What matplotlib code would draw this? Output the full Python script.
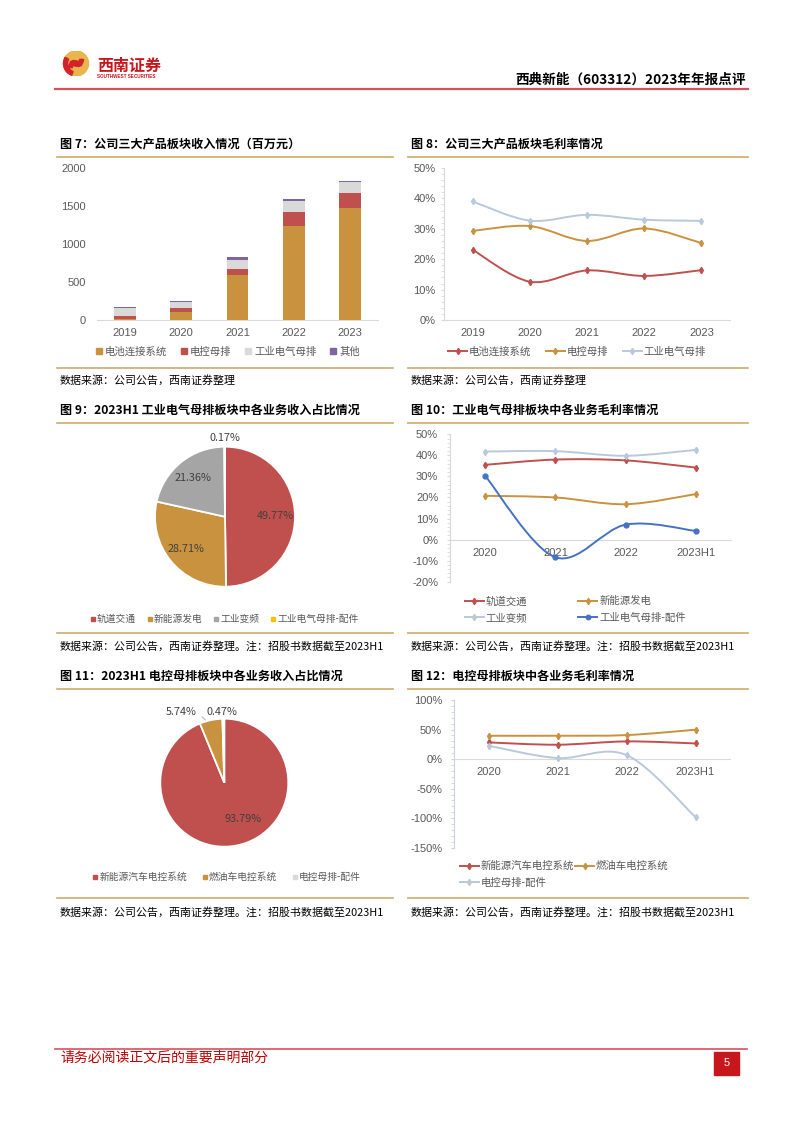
import numpy as np
import matplotlib
matplotlib.use('Agg')
import matplotlib.pyplot as plt
from matplotlib.path import Path
from matplotlib.patches import PathPatch, Rectangle, Circle, Wedge
from matplotlib.lines import Line2D
from matplotlib.ticker import FuncFormatter, MultipleLocator

plt.rcParams['font.family'] = ['Noto Sans CJK SC', 'DejaVu Sans']

# ---------------- data ----------------
years7 = ['2019', '2020', '2021', '2022', '2023']
rev_battery = [10, 110, 593, 1231, 1468]
rev_control = [45, 44, 79, 189, 202]
rev_industrial = [105, 88, 119, 140, 141]
rev_other = [12, 13, 40, 27, 22]
series7 = ['电池连接系统', '电控母排', '工业电气母排', '其他']

years8 = ['2019', '2020', '2021', '2022', '2023']
gm_battery = [23.1, 12.6, 16.3, 14.5, 16.4]
gm_control = [29.3, 30.9, 26.0, 30.1, 25.3]
gm_industrial = [39.0, 32.7, 34.6, 33.0, 32.6]
series8 = ['电池连接系统', '电控母排', '工业电气母排']

pie9_labels = ['轨道交通', '新能源发电', '工业变频', '工业电气母排-配件']
pie9_values = [49.77, 28.71, 21.36, 0.17]

cats10 = ['2020', '2021', '2022', '2023H1']
gm_rail = [35.5, 38.0, 37.6, 34.2]
gm_newenergy = [20.8, 20.0, 16.8, 21.6]
gm_inverter = [41.8, 42.0, 39.8, 42.6]
gm_parts10 = [30.3, -8.4, 7.1, 4.1]
series10 = ['轨道交通', '新能源发电', '工业变频', '工业电气母排-配件']

pie11_labels = ['新能源汽车电控系统', '燃油车电控系统', '电控母排-配件']
pie11_values = [93.79, 5.74, 0.47]

cats12 = ['2020', '2021', '2022', '2023H1']
gm_nev = [28.2, 24.3, 29.9, 26.5]
gm_fuel = [39.5, 39.5, 40.6, 49.7]
gm_parts12 = [22.6, 1.7, 6.8, -98.2]
series12 = ['新能源汽车电控系统', '燃油车电控系统', '电控母排-配件']

# ---------------- style ----------------
W, H = 802, 1133
C_GOLD = '#C9923E'
C_RED = '#C0504D'
C_GRAY = '#D9D9D9'
C_PURPLE = '#7F64A2'
C_LIGHT = '#BAC8DC'
C_BLUE = '#4472C4'
C_YELLOW = '#FFC000'
C_PIEGRAY = '#A5A5A5'
C_RULE = '#D2A96A'
C_TXT = '#595959'
CJK = ['Noto Sans CJK SC', 'DejaVu Sans']
LAT = 'Liberation Sans'

fig = plt.figure(figsize=(W / 100, H / 100), dpi=100)


def ax_px(x0, y0, x1, y1):
    return fig.add_axes([x0 / W, 1 - y1 / H, (x1 - x0) / W, (y1 - y0) / H])


def ftext(x, y, s, **kw):
    return fig.text(x / W, 1 - y / H, s, **kw)


def hline(x0, x1, y, color, lw):
    fig.add_artist(Line2D([x0 / W, x1 / W], [1 - y / H, 1 - y / H],
                          color=color, lw=lw, transform=fig.transFigure))


def smooth_path(xs, ys):
    pts = np.column_stack([xs, ys]).astype(float)
    n = len(pts)
    verts = [pts[0]]
    codes = [Path.MOVETO]
    for i in range(n - 1):
        p0 = pts[i - 1] if i > 0 else pts[i]
        p1 = pts[i]
        p2 = pts[i + 1]
        p3 = pts[i + 2] if i + 2 < n else pts[i + 1]
        c1 = p1 + (p2 - p0) / 6.0
        c2 = p2 - (p3 - p1) / 6.0
        verts += [c1, c2, p2]
        codes += [Path.CURVE4] * 3
    return Path(verts, codes)


def smooth_line(ax, ys, color, marker='d', ms=3.2, lw=1.4):
    xs = np.arange(len(ys))
    ax.add_patch(PathPatch(smooth_path(xs, ys), fill=False, edgecolor=color,
                           lw=lw, capstyle='round', joinstyle='round', zorder=3))
    ax.plot(xs, ys, linestyle='none', marker=marker, ms=ms, color=color, zorder=4)


def pct_fmt(v, pos):
    return f'{v:.0f}%'


def style_line_axes(ax, spine_color=C_GRAY):
    for s in ['top', 'right']:
        ax.spines[s].set_visible(False)
    ax.spines['left'].set_color(spine_color)
    ax.spines['bottom'].set_color(C_GRAY)
    ax.tick_params(axis='both', length=0, labelsize=8, labelcolor=C_TXT,
                   labelfontfamily=LAT)
    ax.tick_params(axis='y', which='minor', length=2.5, color=spine_color, direction='out')
    ax.tick_params(axis='y', which='major', length=2.5, color=spine_color, direction='out')
    ax.yaxis.set_major_formatter(FuncFormatter(pct_fmt))


# ---------------- page header/footer ----------------
ax_logo = ax_px(62, 51, 90, 76)
ax_logo.set_xlim(-1.12, 1.12)
ax_logo.set_ylim(-1.0, 1.0)
ax_logo.set_aspect('equal')
ax_logo.axis('off')
ax_logo.add_patch(Circle((0, 0), 1.0, color='#E9B54C'))
ax_logo.add_patch(Wedge((0, 0), 1.0, 150, 250, width=0.32, color='#D2232A'))
ax_logo.add_patch(Wedge((0.05, 0.33), 0.55, 200, 360, width=0.3, color='#D2232A'))
ax_logo.add_patch(Wedge((-0.05, -0.33), 0.55, 20, 180, width=0.3, color='#D2232A'))

ftext(97, 66, '西南证券', fontsize=11.5, fontweight='bold', color='#C8161D',
      va='center', ha='left', family=CJK)
ftext(97, 76.5, 'SOUTHWEST SECURITIES', fontsize=3.3, fontweight='bold', color='#C8161D',
      va='center', ha='left', family=LAT)
ftext(746, 80, '西典新能（603312）2023年年报点评', fontsize=9.8, fontweight='bold',
      color='black', va='center', ha='right', family=CJK)
hline(55, 748, 88.5, '#D8505A', 1.6)

hline(55, 747, 1048.5, '#D8505A', 1.2)
ftext(60, 1058, '请务必阅读正文后的重要声明部分', fontsize=10, color='#C00000',
      va='center', ha='left', family=CJK)
fig.add_artist(Rectangle((714 / W, 1 - 1075 / H), 25 / W, 23.5 / H,
                         transform=fig.transFigure, color='#C8161D'))
ftext(726.5, 1063, '5', fontsize=8, color='white', va='center', ha='center', family=LAT)

# ---------------- titles, rules, sources ----------------
titles = [
    (60, 144, '图 7：公司三大产品板块收入情况（百万元）'),
    (411, 144, '图 8：公司三大产品板块毛利率情况'),
    (60, 410, '图 9：2023H1 工业电气母排板块中各业务收入占比情况'),
    (411, 410, '图 10：工业电气母排板块中各业务毛利率情况'),
    (60, 676, '图 11：2023H1 电控母排板块中各业务收入占比情况'),
    (411, 676, '图 12：电控母排板块中各业务毛利率情况'),
]
for x, y, s in titles:
    ftext(x, y, s, fontsize=8.7, fontweight='bold', color='black', va='center',
          ha='left', family=CJK)

for y in [157, 368, 423, 633, 689, 898]:
    hline(57, 393, y, C_RULE, 1.2)
    hline(408, 748, y, C_RULE, 1.2)

src1 = '数据来源：公司公告，西南证券整理'
src2 = '数据来源：公司公告，西南证券整理。注：招股书数据截至2023H1'
for x, y, s in [(60, 380, src1), (411, 380, src1), (60, 646, src2), (411, 646, src2),
                (60, 912, src2), (411, 912, src2)]:
    ftext(x, y, s, fontsize=7.9, color='black', va='center', ha='left',
          family=CJK, style='italic')

# ---------------- Chart 7: stacked bars ----------------
ax7 = ax_px(97, 168, 378, 320)
x7 = np.arange(len(years7))
bottom = np.zeros(len(years7))
cols7 = [C_GOLD, C_RED, C_GRAY, C_PURPLE]
for vals, c in zip([rev_battery, rev_control, rev_industrial, rev_other], cols7):
    ax7.bar(x7, vals, 0.39, bottom=bottom, color=c, zorder=3)
    bottom = bottom + np.array(vals)
ax7.set_xlim(-0.5, len(years7) - 0.5)
ax7.set_ylim(0, 2000)
ax7.set_yticks(np.arange(0, 2001, 500))
ax7.set_xticks(x7)
ax7.set_xticklabels(years7)
for s in ['top', 'right', 'left']:
    ax7.spines[s].set_visible(False)
ax7.spines['bottom'].set_color(C_GRAY)
ax7.tick_params(axis='both', length=0, labelsize=8, labelcolor=C_TXT,
                labelfontfamily=LAT)
ax7.tick_params(axis='x', pad=6)
ax7.tick_params(axis='y', pad=8)
h7 = [Line2D([], [], linestyle='none', marker='s', ms=4.5, color=c) for c in cols7]
ax7.legend(h7, series7, loc='center', bbox_to_anchor=(227 / W, 1 - 352 / H),
           bbox_transform=fig.transFigure, ncol=4, frameon=False,
           handletextpad=0.1, columnspacing=1.1, handlelength=1.0,
           labelcolor=C_TXT, prop={'family': CJK, 'size': 7.5})

# ---------------- Chart 8: lines ----------------
ax8 = ax_px(444, 168, 730, 320)
for vals, c in zip([gm_battery, gm_control, gm_industrial], [C_RED, C_GOLD, C_LIGHT]):
    smooth_line(ax8, vals, c)
ax8.set_xlim(-0.5, len(years8) - 0.5)
ax8.set_ylim(0, 50)
ax8.set_yticks(np.arange(0, 51, 10))
ax8.yaxis.set_minor_locator(MultipleLocator(2))
ax8.set_xticks(np.arange(len(years8)))
ax8.set_xticklabels(years8)
style_line_axes(ax8)
ax8.tick_params(axis='x', pad=6)
h8 = [Line2D([], [], color=c, lw=1.4, marker='d', ms=3.2) for c in [C_RED, C_GOLD, C_LIGHT]]
ax8.legend(h8, series8, loc='center', bbox_to_anchor=(577 / W, 1 - 352 / H),
           bbox_transform=fig.transFigure, ncol=3, frameon=False,
           handletextpad=0.2, columnspacing=1.4, handlelength=1.8,
           labelcolor=C_TXT, prop={'family': CJK, 'size': 7.5})


# ---------------- pies ----------------
def draw_pie(ax, values, colors, inner_dist, outer_dist):
    wedges, _, autotexts = ax.pie(values, colors=colors, startangle=90, counterclock=False,
                                  autopct=lambda p: f'{p:.2f}%', pctdistance=inner_dist,
                                  wedgeprops=dict(edgecolor='white', linewidth=1.3),
                                  textprops=dict(fontsize=7.8, color='#404040', family=CJK))
    ax.set_xlim(-1, 1)
    ax.set_ylim(-1, 1)
    ax.set_aspect('equal')
    ax.axis('off')
    for w, t, v in zip(wedges, autotexts, values):
        t.set_clip_on(False)
        if v < 8:
            ang = np.deg2rad((w.theta1 + w.theta2) / 2)
            t.set_position((outer_dist * np.cos(ang), outer_dist * np.sin(ang)))
    return wedges, autotexts


ax9 = ax_px(155, 446.7, 295, 586.7)
w9, t9 = draw_pie(ax9, pie9_values, [C_RED, C_GOLD, C_PIEGRAY, C_YELLOW], 0.72, 1.13)
h9 = [Line2D([], [], linestyle='none', marker='s', ms=3.2, color=c)
      for c in [C_RED, C_GOLD, C_PIEGRAY, C_YELLOW]]
ax9.legend(h9, pie9_labels, loc='center', bbox_to_anchor=(224 / W, 1 - 619 / H),
           bbox_transform=fig.transFigure, ncol=4, frameon=False,
           handletextpad=0.05, columnspacing=1.0, handlelength=0.8,
           labelcolor=C_TXT, prop={'family': CJK, 'size': 7})

ax11 = ax_px(160.3, 718.7, 288.3, 846.7)
w11, t11 = draw_pie(ax11, pie11_values, [C_RED, C_GOLD, C_GRAY], 0.62, 1.12)
# label placement to match layout
t11[0].set_position((0.29, -0.57))
t11[1].set_position((-0.67, 1.11))
t11[2].set_position((-0.04, 1.11))
mid1 = np.deg2rad((w11[1].theta1 + w11[1].theta2) / 2)
ax11.annotate('', xy=(np.cos(mid1) * 0.97 - 0.06, np.sin(mid1) * 0.97),
              xytext=(-0.38, 1.06),
              arrowprops=dict(arrowstyle='-', color='#A6A6A6', lw=0.6),
              annotation_clip=False)
h11 = [Line2D([], [], linestyle='none', marker='s', ms=3.2, color=c)
       for c in [C_RED, C_GOLD, C_GRAY]]
ax11.legend(h11, pie11_labels, loc='center', bbox_to_anchor=(226 / W, 1 - 877 / H),
            bbox_transform=fig.transFigure, ncol=3, frameon=False,
            handletextpad=0.05, columnspacing=1.4, handlelength=0.8,
            labelcolor=C_TXT, prop={'family': CJK, 'size': 7})

# ---------------- Chart 10 ----------------
ax10 = ax_px(450, 434.3, 731, 581.7)
smooth_line(ax10, gm_rail, C_RED)
smooth_line(ax10, gm_newenergy, C_GOLD)
smooth_line(ax10, gm_inverter, C_LIGHT)
smooth_line(ax10, gm_parts10, C_BLUE, marker='o', ms=3.5)
ax10.set_xlim(-0.5, len(cats10) - 0.5)
ax10.set_ylim(-20, 50)
ax10.set_yticks(np.arange(-20, 51, 10))
ax10.yaxis.set_minor_locator(MultipleLocator(2))
ax10.set_xticks(np.arange(len(cats10)))
ax10.set_xticklabels(cats10)
style_line_axes(ax10)
ax10.spines['bottom'].set_position(('data', 0))
ax10.tick_params(axis='x', pad=6)
ax10.tick_params(axis='y', pad=6)
h10 = [Line2D([], [], color=c, lw=1.4, marker=m, ms=3.2)
       for c, m in zip([C_RED, C_GOLD, C_LIGHT, C_BLUE], ['d', 'd', 'd', 'o'])]
order = [0, 2, 1, 3]
ax10.legend([h10[i] for i in order], [series10[i] for i in order], loc='upper left',
            bbox_to_anchor=(465 / W, 1 - 596 / H), bbox_transform=fig.transFigure,
            ncol=2, frameon=False, borderaxespad=0, borderpad=0,
            handletextpad=0.2, columnspacing=4.9, handlelength=1.8, labelspacing=0.62,
            labelcolor=C_TXT, prop={'family': CJK, 'size': 7.5})

# ---------------- Chart 12 ----------------
ax12 = ax_px(454, 700, 730, 847.7)
smooth_line(ax12, gm_nev, C_RED)
smooth_line(ax12, gm_fuel, C_GOLD)
smooth_line(ax12, gm_parts12, C_LIGHT)
ax12.set_xlim(-0.5, len(cats12) - 0.5)
ax12.set_ylim(-150, 100)
ax12.set_yticks(np.arange(-150, 101, 50))
ax12.yaxis.set_minor_locator(MultipleLocator(10))
ax12.set_xticks(np.arange(len(cats12)))
ax12.set_xticklabels(cats12)
style_line_axes(ax12, spine_color='#C9D3E3')
ax12.spines['bottom'].set_position(('data', 0))
ax12.tick_params(axis='x', pad=6)
ax12.tick_params(axis='y', pad=6)
h12 = [Line2D([], [], color=c, lw=1.4, marker='d', ms=3.2) for c in [C_RED, C_GOLD, C_LIGHT]]
ax12.legend([h12[0], h12[2], h12[1]], [series12[0], series12[2], series12[1]],
            loc='upper left', bbox_to_anchor=(460 / W, 1 - 861 / H),
            bbox_transform=fig.transFigure, ncol=2, frameon=False, borderaxespad=0,
            borderpad=0, handletextpad=0.2, columnspacing=0.1, handlelength=1.8,
            labelspacing=0.62, labelcolor=C_TXT, prop={'family': CJK, 'size': 7.5})

fig.savefig('out.png', dpi=100)
